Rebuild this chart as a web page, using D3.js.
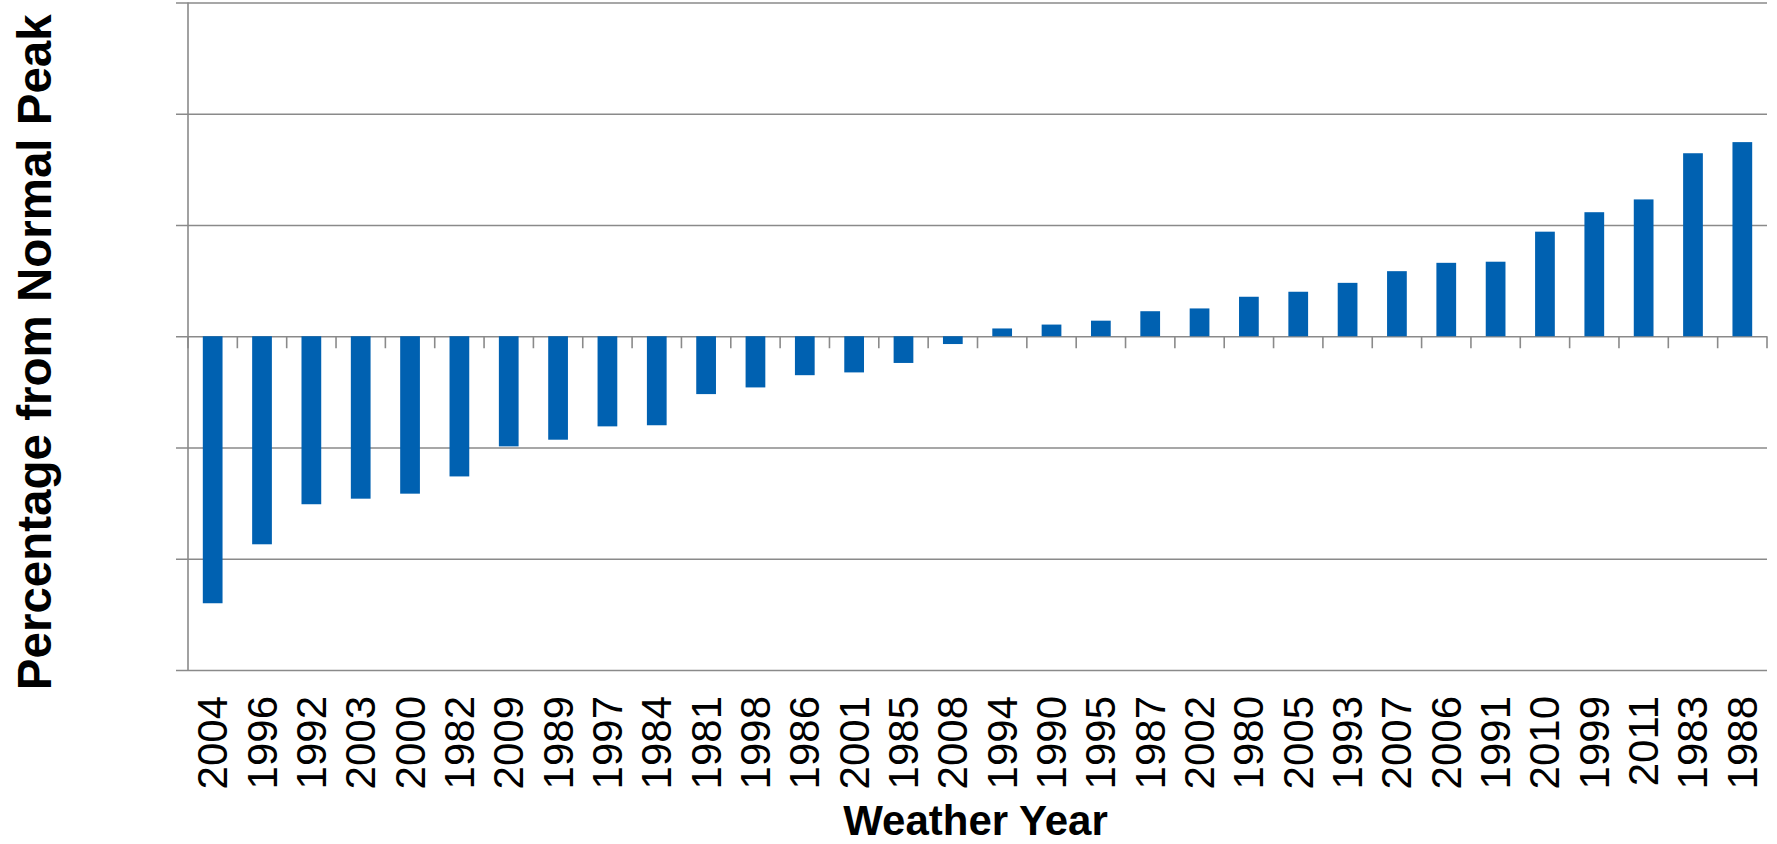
<!DOCTYPE html>
<html>
<head>
<meta charset="utf-8">
<script src="https://cdn.jsdelivr.net/npm/d3@7"></script>
<style>
  html, body { margin: 0; padding: 0; background: #fff; }
  svg { display: block; }
</style>
</head>
<body>
<svg id="chart" width="1777" height="844"></svg>
<script>
// Weather years, sorted from the mildest to the most severe peak
const years = ["2004","1996","1992","2003","2000","1982","2009","1989","1997","1984",
               "1981","1998","1986","2001","1985","2008","1994","1990","1995","1987",
               "2002","1980","2005","1993","2007","2006","1991","2010","1999","2011",
               "1983","1988"];

// Deviation of each year's peak from the normal peak (%)
const deviation = [-4.80,-3.74,-3.02,-2.92,-2.83,-2.52,-1.98,-1.86,-1.62,-1.60,
                   -1.04,-0.92,-0.70,-0.65,-0.48,-0.14, 0.14, 0.21, 0.28, 0.45,
                    0.50, 0.71, 0.80, 0.96, 1.17, 1.32, 1.34, 1.88, 2.23, 2.46,
                    3.29, 3.49];

// Gridline positions on the value axis
const gridTicks = [-6, -4, -2, 0, 2, 4, 6];

const data = years.map((y, i) => ({ year: y, value: deviation[i] }));

const svg = d3.select("#chart");
const plotLeft = 188, plotRight = 1767, plotTop = 2.5, plotBottom = 670;
const gridColor = "#8a8a8a";
const barColor = "#0061b1";

const x = d3.scaleBand().domain(years).range([plotLeft, plotRight]).padding(0);
const y = d3.scaleLinear().domain([-6, 6]).range([plotBottom, plotTop]);

// Horizontal gridlines with short outer tick marks
const yAxis = svg.append("g")
  .attr("transform", `translate(${plotLeft},0)`)
  .call(d3.axisLeft(y).tickValues(gridTicks).tickSizeInner(-(plotRight - plotLeft)).tickSizeOuter(0).tickFormat(""));
yAxis.select(".domain").remove();
yAxis.selectAll(".tick line")
  .attr("x1", -12)
  .attr("stroke", gridColor)
  .attr("stroke-width", 1.6);

// Vertical value axis line
svg.append("line")
  .attr("x1", plotLeft).attr("x2", plotLeft)
  .attr("y1", y(6)).attr("y2", y(-6))
  .attr("stroke", gridColor).attr("stroke-width", 1.6);

// Bars
const bw = x.bandwidth();
svg.append("g").selectAll("rect")
  .data(data)
  .join("rect")
  .attr("x", d => x(d.year) + bw * 0.3)
  .attr("width", bw * 0.4)
  .attr("y", d => y(Math.max(0, d.value)))
  .attr("height", d => Math.abs(y(d.value) - y(0)))
  .attr("fill", barColor);

// Category tick marks hanging below the zero line at band edges
const edges = years.map(d => x(d)).concat([plotRight]);
svg.append("g").selectAll("line")
  .data(edges)
  .join("line")
  .attr("x1", d => d).attr("x2", d => d)
  .attr("y1", y(0)).attr("y2", y(0) + 12)
  .attr("stroke", gridColor).attr("stroke-width", 1.6);

// Year labels along the bottom, rotated
const xAxis = svg.append("g")
  .attr("transform", `translate(0,${plotBottom})`)
  .call(d3.axisBottom(x).tickSize(0));
xAxis.select(".domain").remove();
xAxis.selectAll(".tick text")
  .attr("font-family", "'Liberation Sans', Arial, sans-serif")
  .attr("font-size", 42)
  .attr("fill", "#000")
  .attr("text-anchor", "end")
  .attr("dy", null)
  .attr("dominant-baseline", "central")
  .attr("transform", "translate(0,26) rotate(-90)")
  .attr("x", 0).attr("y", 0);

// Axis titles
svg.append("text")
  .attr("x", (plotLeft + plotRight) / 2 - 2)
  .attr("y", 835)
  .attr("text-anchor", "middle")
  .attr("font-family", "'Liberation Sans', Arial, sans-serif")
  .attr("font-weight", "bold")
  .attr("font-size", 42)
  .attr("fill", "#000")
  .text("Weather Year");

svg.append("text")
  .attr("transform", `translate(51,${(plotTop + plotBottom) / 2 + 16}) rotate(-90)`)
  .attr("text-anchor", "middle")
  .attr("font-family", "'Liberation Sans', Arial, sans-serif")
  .attr("font-weight", "bold")
  .attr("font-size", 47.5)
  .attr("fill", "#000")
  .text("Percentage from Normal Peak");
</script>
</body>
</html>
